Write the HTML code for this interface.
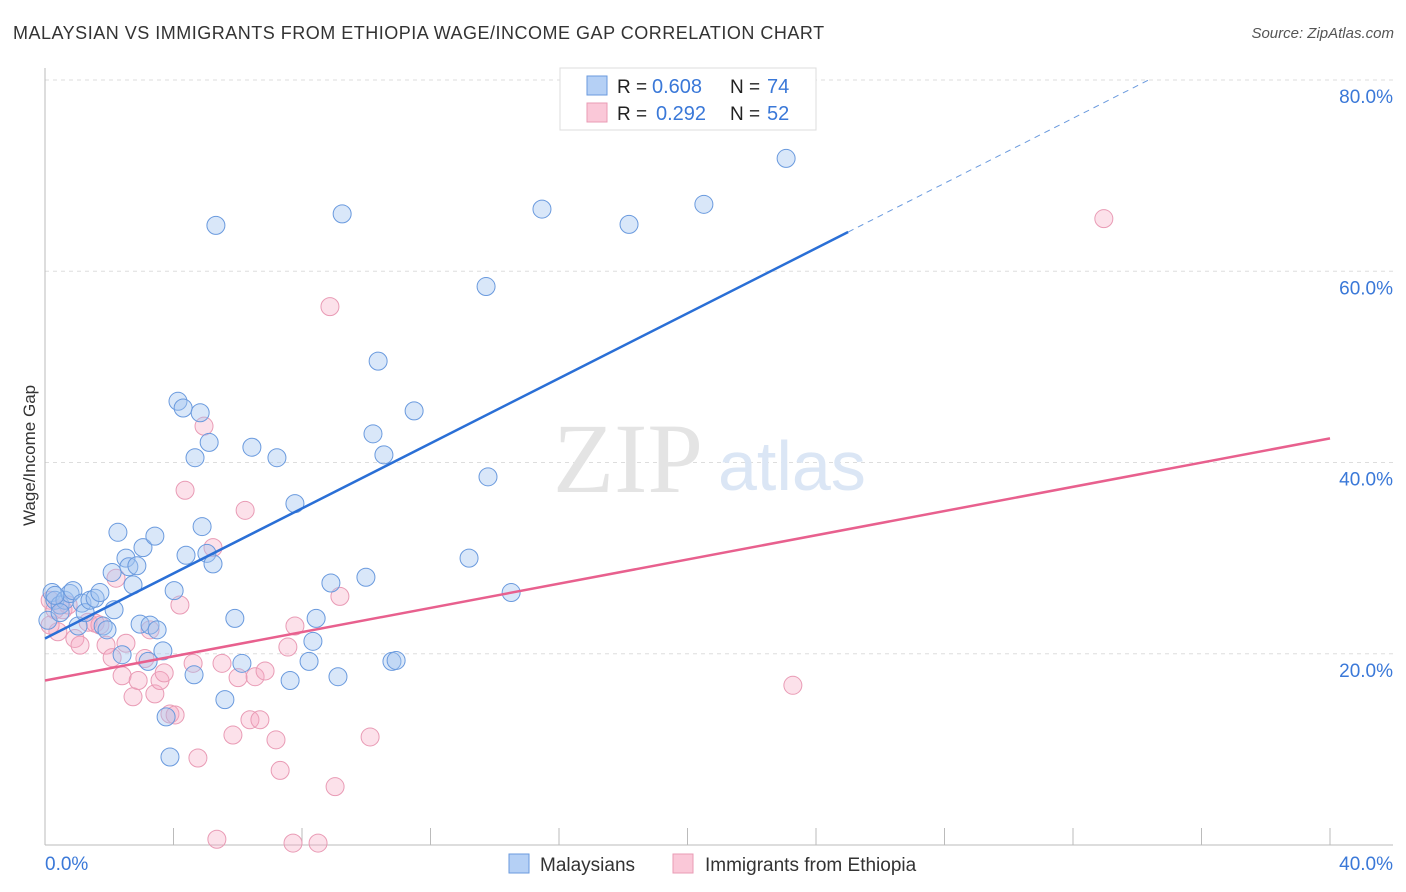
<!DOCTYPE html>
<html><head><meta charset="utf-8"><style>
body{margin:0;background:#fff;font-family:"Liberation Sans",sans-serif;}
#wrap{position:relative;width:1406px;height:892px;overflow:hidden;}
.t{position:absolute;white-space:nowrap;}
</style></head><body>
<div id="wrap">
<div class="t" style="left:13px;top:23px;font-size:18px;letter-spacing:0.5px;color:#333;">MALAYSIAN VS IMMIGRANTS FROM ETHIOPIA WAGE/INCOME GAP CORRELATION CHART</div>
<div class="t" style="right:12px;top:25px;font-size:15px;color:#555;font-style:italic;">Source: ZipAtlas.com</div>
<div class="t" style="left:-40px;top:446px;font-size:17px;color:#333;transform:rotate(-90deg);width:140px;text-align:center;">Wage/Income Gap</div>
<svg id="chart" width="1406" height="892" style="position:absolute;left:0;top:0"></svg>
</div>
<script>
const xTicks=[0,4,8,12,16,20,24,28,32,36,40];
const yTicks=[20,40,60,80];
const blueX=[0.22,0.31,0.47,0.62,0.78,0.87,1.03,1.15,1.25,1.4,1.56,1.71,1.81,1.93,2.09,2.15,2.27,2.4,2.52,2.61,2.74,2.86,2.96,3.05,3.21,3.27,3.42,3.49,3.67,3.77,3.89,4.02,4.14,4.3,4.39,4.64,4.67,4.83,4.89,5.04,5.11,5.23,5.32,5.6,5.91,6.13,6.44,7.22,7.63,7.78,8.22,8.34,8.44,8.9,9.12,9.25,9.99,10.21,10.37,10.55,10.8,10.93,11.49,13.2,13.73,13.79,14.51,15.47,18.18,20.51,23.07,0.09,0.47,0.31];
const blueY=[26.4,25.6,25.1,25.6,26.3,26.6,22.9,25.3,24.3,25.6,25.8,26.4,22.9,22.5,28.5,24.6,32.7,19.9,30.0,29.1,27.2,29.2,23.1,31.1,19.2,23.0,32.3,22.5,20.3,13.4,9.2,26.6,46.4,45.7,30.3,17.8,40.5,45.2,33.3,30.5,42.1,29.4,64.8,15.2,23.7,19.0,41.6,40.5,17.2,35.7,19.2,21.3,23.7,27.4,17.6,66.0,28.0,43.0,50.6,40.8,19.2,19.3,45.4,30.0,58.4,38.5,26.4,66.5,64.9,67.0,71.8,23.5,24.3,26.1];
const pinkX=[0.16,0.31,0.4,0.56,0.72,0.93,1.09,1.34,1.56,1.71,1.9,2.09,2.21,2.4,2.52,2.74,2.9,3.11,3.27,3.42,3.58,3.71,3.89,4.05,4.2,4.36,4.61,4.76,4.95,5.23,5.35,5.51,5.85,6.01,6.23,6.38,6.54,6.69,6.85,7.19,7.32,7.56,7.72,7.78,8.5,9.03,9.18,8.87,10.12,23.28,32.96,0.16];
const pinkY=[25.6,24.6,22.3,24.6,25.1,21.6,20.9,23.3,23.2,23.0,20.9,19.6,27.9,17.7,21.1,15.5,17.2,19.5,22.5,15.8,17.2,18.0,13.7,13.6,25.1,37.1,19.0,9.1,43.8,31.1,0.6,19.0,11.5,17.5,35.0,13.1,17.6,13.1,18.2,11.0,7.8,20.7,0.2,22.9,0.2,6.1,26.0,56.3,11.3,16.7,65.5,23.0];
const blueTrend=[21.6,1.70];
const pinkTrend=[17.2,0.633];
const X0=45,X1=1330,Y0=845,Y80=80;
const sx=v=>X0+(X1-X0)*v/40;
const sy=v=>Y0-(Y0-Y80)*v/80;
const svg=document.getElementById('chart');
const NS='http://www.w3.org/2000/svg';
function mk(tag,attrs,parent){const e=document.createElementNS(NS,tag);for(const k in attrs)e.setAttribute(k,attrs[k]);(parent||svg).appendChild(e);return e;}
yTicks.forEach(v=>{
 const g=mk('line',{x1:X0,x2:1393,y1:sy(v),y2:sy(v),stroke:'#ddd','stroke-dasharray':'4,4'});
 
 
 const t=mk('text',{x:1393,y:sy(v)+23,'text-anchor':'end','font-size':19,fill:'#3a78d8','font-family':'Liberation Sans'});
 t.textContent=v.toFixed(1)+'%';
 
 
});
const ax=mk('line',{x1:X0,x2:X0,y1:68,y2:Y0,stroke:'#bbb'});


const bx=mk('line',{x1:X0,x2:1393,y1:Y0,y2:Y0,stroke:'#bbb'});


xTicks.forEach(v=>{
 const l=mk('line',{x1:sx(v),x2:sx(v),y1:828,y2:Y0,stroke:'#bbb'});
 
 
});
[[0,'start'],[40,'end']].forEach(([v,a])=>{
 const t=mk('text',{x:v===0?45:1393,y:870,'text-anchor':a,'font-size':19,fill:'#3a78d8','font-family':'Liberation Sans'});
 t.textContent=v.toFixed(1)+'%';
 
 
});
const wm=mk('text',{x:553,y:492,'font-size':100,fill:'#e4e4e4','font-family':'Liberation Serif'});wm.textContent='ZIP';


const wm2=mk('text',{x:718,y:490,'font-size':70,fill:'#dbe6f5','font-family':'Liberation Sans'});wm2.textContent='atlas';


function pts(xs,ys,fill,stroke,name){xs.forEach((x,i)=>{
 const c=mk('circle',{cx:sx(x),cy:sy(ys[i]),r:9,fill:fill,stroke:stroke,'stroke-width':1});
 
 
});}
pts(pinkX,pinkY,'rgba(245,170,195,0.35)','#e99bb5','ethiopia-point');
pts(blueX,blueY,'rgba(160,196,240,0.4)','#6a9ade','malaysian-point');
const bEnd=25;
const bl=mk('line',{x1:sx(0),y1:sy(blueTrend[0]),x2:sx(bEnd),y2:sy(blueTrend[0]+blueTrend[1]*bEnd),stroke:'#2a6fd6','stroke-width':2.5});


const bxEnd=(80-blueTrend[0])/blueTrend[1];
const bd=mk('line',{x1:sx(bEnd),y1:sy(blueTrend[0]+blueTrend[1]*bEnd),x2:sx(bxEnd),y2:sy(80),stroke:'#6a9ade','stroke-width':1,'stroke-dasharray':'6,5'});


const pl=mk('line',{x1:sx(0),y1:sy(pinkTrend[0]),x2:sx(40),y2:sy(pinkTrend[0]+pinkTrend[1]*40),stroke:'#e8608e','stroke-width':2.5});


const lg=mk('g',{});


mk('rect',{x:560,y:68,width:256,height:62,fill:'#fff',stroke:'#ddd'},lg);
mk('rect',{x:587,y:76,width:20,height:19,fill:'#b5d0f5',stroke:'#6a9ade'},lg);
mk('rect',{x:587,y:103,width:20,height:19,fill:'#fac8d8',stroke:'#e99bb5'},lg);
[[93,'0.608','74'],[120,'0.292','52']].forEach(([y,r,n],i)=>{
 const a=mk('text',{x:617,y:y,'font-size':19,fill:'#222','font-family':'Liberation Sans'},lg);a.textContent='R = ';
 const b=mk('text',{x:i?656:652,y:y,'font-size':20,fill:'#3a78d8','font-family':'Liberation Sans'},lg);b.textContent=r;
 const c=mk('text',{x:730,y:y,'font-size':19,fill:'#222','font-family':'Liberation Sans'},lg);c.textContent='N = ';
 const d=mk('text',{x:767,y:y,'font-size':20,fill:'#3a78d8','font-family':'Liberation Sans'},lg);d.textContent=n;
});
const bl2=mk('g',{});


mk('rect',{x:509,y:854,width:20,height:19,fill:'#b5d0f5',stroke:'#6a9ade'},bl2);
const l1=mk('text',{x:540,y:871,'font-size':19,fill:'#333','font-family':'Liberation Sans'},bl2);l1.textContent='Malaysians';
mk('rect',{x:673,y:854,width:20,height:19,fill:'#fac8d8',stroke:'#e99bb5'},bl2);
const l2=mk('text',{x:705,y:871,'font-size':19,fill:'#333','font-family':'Liberation Sans'},bl2);l2.textContent='Immigrants from Ethiopia';
</script>
</body></html>
